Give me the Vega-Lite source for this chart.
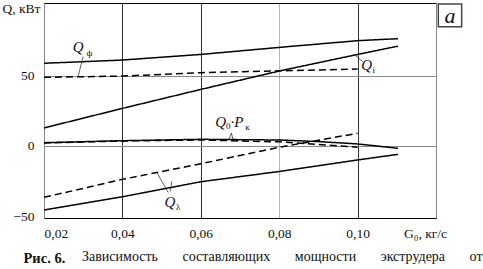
{
  "$schema": "https://vega.github.io/schema/vega-lite/v6.json",
  "width": 392,
  "height": 215,
  "autosize": {"type": "none"},
  "padding": {"left": 44, "top": 3, "right": 47, "bottom": 51},
  "background": "white",
  "config": {
    "font": "Liberation Serif",
    "view": {"stroke": "#888", "strokeWidth": 1}
  },
  "title": {
    "text": "Зависимость\u00a0\u00a0\u00a0\u00a0\u00a0\u00a0\u00a0составляющих\u00a0\u00a0\u00a0\u00a0\u00a0\u00a0\u00a0мощности\u00a0\u00a0\u00a0\u00a0\u00a0\u00a0\u00a0экструдера\u00a0\u00a0\u00a0\u00a0\u00a0\u00a0\u00a0от",
    "orient": "bottom",
    "anchor": "start",
    "frame": "group",
    "dx": 38,
    "offset": -15,
    "font": "Liberation Serif",
    "fontSize": 14,
    "fontWeight": "normal",
    "color": "#111"
  },
  "datasets": {
    "lines": [
      {"series": "Qf", "style": "solid", "x": 0.02, "y": 58.7},
      {"series": "Qf", "style": "solid", "x": 0.04, "y": 61.0},
      {"series": "Qf", "style": "solid", "x": 0.06, "y": 65.0},
      {"series": "Qf", "style": "solid", "x": 0.08, "y": 70.0},
      {"series": "Qf", "style": "solid", "x": 0.10, "y": 74.8},
      {"series": "Qf", "style": "solid", "x": 0.1103, "y": 76.2},
      {"series": "Qf_d", "style": "dashed", "x": 0.02, "y": 48.7},
      {"series": "Qf_d", "style": "dashed", "x": 0.04, "y": 49.6},
      {"series": "Qf_d", "style": "dashed", "x": 0.06, "y": 52.0},
      {"series": "Qf_d", "style": "dashed", "x": 0.08, "y": 53.3},
      {"series": "Qf_d", "style": "dashed", "x": 0.10, "y": 54.6},
      {"series": "Qi", "style": "solid", "x": 0.02, "y": 12.7},
      {"series": "Qi", "style": "solid", "x": 0.04, "y": 26.6},
      {"series": "Qi", "style": "solid", "x": 0.06, "y": 40.1},
      {"series": "Qi", "style": "solid", "x": 0.08, "y": 53.2},
      {"series": "Qi", "style": "solid", "x": 0.10, "y": 65.0},
      {"series": "Qi", "style": "solid", "x": 0.1103, "y": 70.9},
      {"series": "Qp", "style": "solid", "x": 0.02, "y": 2.2},
      {"series": "Qp", "style": "solid", "x": 0.04, "y": 3.6},
      {"series": "Qp", "style": "solid", "x": 0.06, "y": 4.6},
      {"series": "Qp", "style": "solid", "x": 0.08, "y": 4.1},
      {"series": "Qp", "style": "solid", "x": 0.09, "y": 3.0},
      {"series": "Qp", "style": "solid", "x": 0.10, "y": 1.3},
      {"series": "Qp", "style": "solid", "x": 0.1103, "y": -1.8},
      {"series": "Qp_d", "style": "dashed", "x": 0.02, "y": 2.0},
      {"series": "Qp_d", "style": "dashed", "x": 0.04, "y": 3.4},
      {"series": "Qp_d", "style": "dashed", "x": 0.06, "y": 4.1},
      {"series": "Qp_d", "style": "dashed", "x": 0.08, "y": 2.8},
      {"series": "Qp_d", "style": "dashed", "x": 0.10, "y": -1.0},
      {"series": "Ql_d", "style": "dashed", "x": 0.02, "y": -36.7},
      {"series": "Ql_d", "style": "dashed", "x": 0.04, "y": -23.9},
      {"series": "Ql_d", "style": "dashed", "x": 0.06, "y": -12.8},
      {"series": "Ql_d", "style": "dashed", "x": 0.08, "y": -1.1},
      {"series": "Ql_d", "style": "dashed", "x": 0.10, "y": 8.9},
      {"series": "Ql", "style": "solid", "x": 0.02, "y": -45.7},
      {"series": "Ql", "style": "solid", "x": 0.04, "y": -36.3},
      {"series": "Ql", "style": "solid", "x": 0.06, "y": -25.6},
      {"series": "Ql", "style": "solid", "x": 0.08, "y": -18.3},
      {"series": "Ql", "style": "solid", "x": 0.10, "y": -10.1},
      {"series": "Ql", "style": "solid", "x": 0.1103, "y": -6.1}
    ],
    "leaders": [
      {"x": 0.0300, "y": 63.5, "x2": 0.0287, "y2": 49.4},
      {"x": 0.0993, "y": 64.6, "x2": 0.1013, "y2": 59.9},
      {"x": 0.0672, "y": 4.6, "x2": 0.0678, "y2": 9.1},
      {"x": 0.0678, "y": 9.1, "x2": 0.0682, "y2": 4.6},
      {"x": 0.0487, "y": -18.6, "x2": 0.0517, "y2": -33.3},
      {"x": 0.0526, "y": -25.4, "x2": 0.0522, "y2": -32.5}
    ],
    "mainLabels": [
      {"t": "Q", "x": 0.0287, "y": 70.3},
      {"t": "Q", "x": 0.1023, "y": 57.5},
      {"t": "Q", "x": 0.0651, "y": 17.1},
      {"t": "·P", "x": 0.0692, "y": 17.1},
      {"t": "Q", "x": 0.0521, "y": -39.8}
    ],
    "subLabels": [
      {"t": "ф", "x": 0.0316, "y": 66.2},
      {"t": "i", "x": 0.1041, "y": 53.6},
      {"t": "0", "x": 0.0670, "y": 13.8},
      {"t": "к", "x": 0.0719, "y": 13.6},
      {"t": "λ", "x": 0.0542, "y": -43.6}
    ],
    "panel": [
      {"t": "a", "x": 0.12059, "x2": 0.12655, "y": 84.7, "y2": 100.9, "xc": 0.12357, "yc": 92.5}
    ]
  },
  "resolve": {"axis": {"x": "independent"}},
  "layer": [
    {
      "data": {"name": "lines"},
      "mark": {"type": "line", "color": "#000", "strokeWidth": 1.5},
      "encoding": {
        "x": {
          "field": "x", "type": "quantitative",
          "scale": {"domain": [0.02, 0.12], "nice": false, "zero": false},
          "axis": {
            "values": [0.02, 0.04, 0.06, 0.08, 0.10, 0.12],
            "labelExpr": "datum.value > 0.11 ? 'G₀, кг/с' : replace(format(datum.value, '.2f'), '.', ',')",
            "labelFontSize": 13.5,
            "labelColor": "#111",
            "labelPadding": 8,
            "labelAlign": {"condition": {"test": "datum.value < 0.03", "value": "left"}, "value": "center"},
            "labelOffset": {"condition": {"test": "datum.value > 0.11", "value": -11}, "value": 0},
            "labelFlush": false,
            "labelOverlap": false,
            "ticks": false,
            "domainColor": "#000",
            "domainWidth": 1.2,
            "grid": true,
            "gridColor": {"condition": {"test": "abs(datum.value - 0.08) < 0.001", "value": "#b5b5b5"}, "value": "#333"},
            "gridOpacity": {"condition": {"test": "datum.value < 0.03 || datum.value > 0.11", "value": 0}, "value": 1},
            "gridWidth": 1,
            "title": "Рис. 6.",
            "titleFontSize": 14.5,
            "titleFontWeight": "bold",
            "titleColor": "#111",
            "titleAlign": "left",
            "titleBaseline": "alphabetic",
            "titleX": -21,
            "titleY": 44
          }
        },
        "y": {
          "field": "y", "type": "quantitative",
          "scale": {"domain": [-51.4, 101.6], "nice": false, "zero": false},
          "axis": {
            "values": [-50, 0, 50],
            "labelFontSize": 13.5,
            "labelColor": "#111",
            "labelPadding": 10,
            "ticks": false,
            "domainColor": "#888",
            "grid": true,
            "gridColor": "#888",
            "gridOpacity": {"condition": {"test": "datum.value < -10", "value": 0}, "value": 1},
            "title": "Q, кВт",
            "titleFontSize": 13.5,
            "titleFontWeight": "normal",
            "titleColor": "#111",
            "titleAngle": 0,
            "titleAlign": "right",
            "titleBaseline": "middle",
            "titleX": -4,
            "titleY": 5
          }
        },
        "detail": {"field": "series"},
        "strokeDash": {
          "field": "style", "type": "nominal",
          "scale": {"domain": ["solid", "dashed"], "range": [[1, 0], [7, 4]]},
          "legend": null
        }
      }
    },
    {
      "data": {"name": "leaders"},
      "mark": {"type": "rule", "color": "#333", "strokeWidth": 0.8},
      "encoding": {
        "x": {
          "field": "x", "type": "quantitative",
          "axis": {"orient": "top", "labels": false, "ticks": false, "grid": false, "domainColor": "#000", "domainWidth": 1.2, "title": null}
        },
        "x2": {"field": "x2"},
        "y": {"field": "y", "type": "quantitative"},
        "y2": {"field": "y2"}
      }
    },
    {
      "data": {"name": "mainLabels"},
      "mark": {"type": "text", "fontSize": 15, "fontStyle": "italic", "color": "#111", "align": "center", "baseline": "middle"},
      "encoding": {
        "x": {"field": "x", "type": "quantitative", "axis": null},
        "y": {"field": "y", "type": "quantitative"},
        "text": {"field": "t"}
      }
    },
    {
      "data": {"name": "subLabels"},
      "mark": {"type": "text", "fontSize": 9, "color": "#111", "align": "center", "baseline": "middle"},
      "encoding": {
        "x": {"field": "x", "type": "quantitative", "axis": null},
        "y": {"field": "y", "type": "quantitative"},
        "text": {"field": "t"}
      }
    },
    {
      "data": {"name": "panel"},
      "mark": {"type": "rect", "fill": "white", "stroke": "#444", "strokeWidth": 1.5},
      "encoding": {
        "x": {"field": "x", "type": "quantitative", "axis": null},
        "x2": {"field": "x2"},
        "y": {"field": "y", "type": "quantitative"},
        "y2": {"field": "y2"}
      }
    },
    {
      "data": {"name": "panel"},
      "mark": {"type": "text", "fontSize": 22, "fontStyle": "italic", "color": "#111", "align": "center", "baseline": "middle"},
      "encoding": {
        "x": {"field": "xc", "type": "quantitative", "axis": null},
        "y": {"field": "yc", "type": "quantitative"},
        "text": {"field": "t"}
      }
    }
  ]
}
